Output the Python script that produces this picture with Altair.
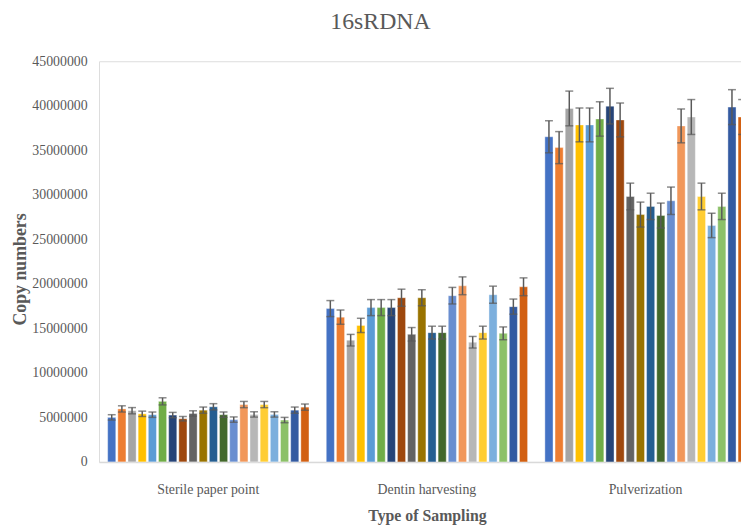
import altair as alt
import pandas as pd

categories = ["Sterile paper point", "Dentin harvesting", "Pulverization"]
series = [f"S{i}" for i in range(1, 21)]
colors = ["#4472C4", "#ED7D31", "#A5A5A5", "#FFC000", "#5B9BD5", "#70AD47",
          "#264478", "#9E480E", "#636363", "#997300", "#255E91", "#43682B",
          "#698ED0", "#F1975A", "#B7B7B7", "#FFCD33", "#7CAFDD", "#8CC168",
          "#335AA1", "#D26012"]

sterile = [5.0, 5.95, 5.75, 5.4, 5.3, 6.8, 5.26, 4.85, 5.44, 5.81,
           6.19, 5.3, 4.75, 6.44, 5.33, 6.44, 5.33, 4.7, 5.81, 6.15]
sterile_err = [0.3, 0.35, 0.35, 0.3, 0.3, 0.4, 0.3, 0.25, 0.3, 0.35,
               0.35, 0.3, 0.3, 0.35, 0.3, 0.35, 0.3, 0.3, 0.35, 0.35]
dentin = [17.22, 16.26, 13.67, 15.33, 17.33, 17.33, 17.33, 18.44, 14.33, 18.44,
          14.52, 14.52, 18.67, 19.78, 13.44, 14.52, 18.78, 14.44, 17.44, 19.67]
dentin_err = [0.9, 0.8, 0.65, 0.8, 0.9, 0.9, 0.9, 0.96, 0.76, 0.9,
              0.72, 0.72, 0.93, 1.0, 0.65, 0.72, 0.96, 0.72, 0.85, 1.0]
pulv = [36.52, 35.3, 39.7, 37.85, 37.85, 38.52, 39.96, 38.41, 29.81, 27.78,
        28.7, 27.67, 29.33, 37.74, 38.74, 29.81, 26.56, 28.7, 39.85, 38.74]
pulv_err = [1.8, 1.8, 1.95, 1.9, 1.9, 1.93, 2.0, 1.9, 1.5, 1.4,
            1.48, 1.4, 1.54, 1.9, 1.96, 1.5, 1.37, 1.48, 1.96, 1.96]

rows = []
for cat, vals, errs in zip(categories, [sterile, dentin, pulv],
                           [sterile_err, dentin_err, pulv_err]):
    for s, v, e in zip(series, vals, errs):
        rows.append({"cat": cat, "series": s, "value": v * 1e6,
                     "lo": (v - e) * 1e6, "hi": (v + e) * 1e6})
df = pd.DataFrame(rows)

FONT = "Liberation Serif"
GRAY = "#595959"

x_enc = alt.X("cat:N", sort=categories,
              scale=alt.Scale(range=[0, 663], paddingInner=0, paddingOuter=0),
              axis=alt.Axis(title="Type of Sampling", labelAngle=0, ticks=False,
                            domainColor="#D9D9D9", domainWidth=1.5,
                            labelFont=FONT, labelFontSize=14, labelColor=GRAY,
                            labelPadding=21, titleFont=FONT, titleFontSize=16,
                            titleFontWeight="bold", titleColor=GRAY,
                            titlePadding=11))
xo_enc = alt.XOffset("series:N", sort=series,
                     scale=alt.Scale(paddingInner=0.2, paddingOuter=0.85))
y_scale = alt.Scale(domain=[0, 45000000], nice=False)

bars = alt.Chart(df).mark_bar(stroke="white", strokeWidth=0.4).encode(
    x=x_enc,
    xOffset=xo_enc,
    y=alt.Y("value:Q", scale=y_scale,
            axis=alt.Axis(title="Copy numbers", values=list(range(0, 45000001, 5000000)),
                          format="d", grid=False, domain=False, ticks=False,
                          labelFont=FONT, labelFontSize=14, labelColor=GRAY,
                          labelPadding=12, titleFont=FONT, titleFontSize=18,
                          titleFontWeight="bold", titleColor=GRAY,
                          titleX=-70, titleY=210)),
    color=alt.Color("series:N", sort=series,
                    scale=alt.Scale(domain=series, range=colors), legend=None),
)

err = alt.Chart(df).mark_rule(color="#595959", strokeWidth=1.5).encode(
    x=alt.X("cat:N", sort=categories),
    xOffset=xo_enc,
    y=alt.Y("lo:Q", scale=y_scale),
    y2="hi:Q",
)
cap_lo = alt.Chart(df).mark_tick(color="#595959", thickness=1.5, size=8).encode(
    x=alt.X("cat:N", sort=categories),
    xOffset=xo_enc,
    y=alt.Y("lo:Q", scale=y_scale),
)
cap_hi = alt.Chart(df).mark_tick(color="#595959", thickness=1.5, size=8).encode(
    x=alt.X("cat:N", sort=categories),
    xOffset=xo_enc,
    y=alt.Y("hi:Q", scale=y_scale),
)

chart = alt.layer(bars, err, cap_lo, cap_hi).properties(
    width=649, height=405,
    title=alt.TitleParams("16sRDNA", font=FONT, fontSize=24, color=GRAY,
                          fontWeight="normal", anchor="middle", frame="group",
                          dx=-40, offset=21),
    autosize=alt.AutoSizeParams(type="none"),
    padding={"left": 92, "top": 51, "right": 0, "bottom": 66},
).configure_view(stroke=None).configure(background="white")

chart.save("out.html", embed_options={"renderer": "svg", "actions": False})
